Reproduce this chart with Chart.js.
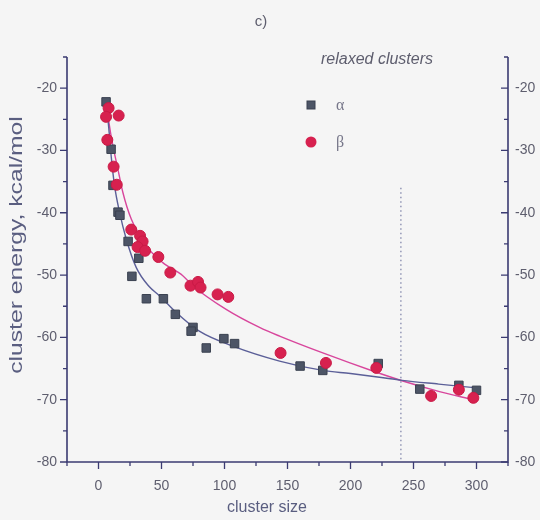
<!DOCTYPE html>
<html>
<head>
<meta charset="utf-8">
<script src="https://cdn.jsdelivr.net/npm/chart.js@4.4.0/dist/chart.umd.min.js"></script>
<style>
  body { margin: 0; background: #f5f5f5; }
  #wrap { width: 540px; height: 520px; }
</style>
</head>
<body>
<div id="wrap"><canvas id="myChart" width="540" height="520"></canvas></div>
<script>
// alpha clusters (squares)
const alphaX = [6, 10, 11.5, 15.5, 17, 23.5, 32, 26.5, 38, 51.5, 61, 75, 73.5, 85.5, 99.5, 108, 160, 178, 222, 255, 286, 300];
const alphaY = [-22.2, -29.8, -35.6, -39.9, -40.4, -44.6, -47.3, -50.2, -53.8, -53.8, -56.3, -58.4, -59.0, -61.7, -60.2, -61.0, -64.6, -65.3, -64.2, -68.3, -67.7, -68.5];

// beta clusters (circles)
const betaX = [8, 6, 16, 7, 12, 14.5, 26, 33, 35, 31, 37, 47.5, 57, 73, 79, 81, 94.5, 103, 144.5, 180.5, 220.5, 264, 286, 297.5];
const betaY = [-23.2, -24.6, -24.4, -28.3, -32.6, -35.5, -42.7, -43.7, -44.6, -45.5, -46.1, -47.1, -49.6, -51.7, -51.1, -52.0, -53.1, -53.5, -62.5, -64.1, -64.9, -69.4, -68.4, -69.7];

// fitted curves
const alphaFitX = [6.5, 8.2, 10.1, 12.7, 16.7, 22, 30, 40, 48.4, 61.7, 80, 106.6, 143.7, 178, 200, 223, 241, 270, 300];
const alphaFitY = [-23, -26.5, -31.0, -35.6, -39.9, -44.2, -48.8, -51.8, -53.3, -56.0, -59.0, -61.4, -63.8, -65.3, -65.8, -66.4, -66.9, -67.5, -68.1];
const betaFitX = [7, 8.2, 11.3, 15.3, 19.3, 26, 37.9, 51, 66.9, 74.8, 101.3, 127.8, 143.7, 178, 217.7, 241.5, 270.6, 297];
const betaFitY = [-23.5, -25.4, -29.1, -32.9, -36.7, -41.0, -45.3, -48.0, -50.1, -51.7, -55.5, -58.4, -59.8, -62.5, -65.4, -67.0, -68.7, -70.0];

// dotted marker line
const markerX = [240, 240];
const markerY = [-36, -80];

const xTicksLabeled = [0, 50, 100, 150, 200, 250, 300];
const yTicksLabeled = [-20, -30, -40, -50, -60, -70, -80];

const axisColor = '#3b3b72';
const textColor = '#5e5e6e';
const fam = 'Arial, "Liberation Sans", sans-serif';

function pts(xs, ys) {
    return xs.map((x, i) => ({ x: x, y: ys[i] }));
}

const frame = {
    id: 'frame',
    afterDraw(chart) {
        const ctx = chart.ctx;
        const a = chart.chartArea;
        const x = chart.scales.x, y = chart.scales.y;
        ctx.save();
        ctx.strokeStyle = axisColor;
        ctx.lineWidth = 1.6;
        ctx.beginPath();
        ctx.moveTo(a.left, a.top); ctx.lineTo(a.left, a.bottom); ctx.lineTo(a.right, a.bottom); ctx.lineTo(a.right, a.top);
        ctx.stroke();
        ctx.lineWidth = 1.3;
        ctx.beginPath();
        for (let v = -25; v <= 325; v += 25) {
            const px = x.getPixelForValue(v);
            const len = v % 50 === 0 ? 7 : 4;
            ctx.moveTo(px, a.bottom); ctx.lineTo(px, a.bottom + len);
        }
        for (let v = -80; v <= -15; v += 5) {
            const py = y.getPixelForValue(v);
            const len = v % 10 === 0 ? 7 : 4;
            ctx.moveTo(a.left - len, py); ctx.lineTo(a.left, py);
            ctx.moveTo(a.right - len, py); ctx.lineTo(a.right, py);
        }
        ctx.stroke();

        // titles
        ctx.fillStyle = textColor;
        ctx.textAlign = 'center';
        ctx.textBaseline = 'middle';
        ctx.font = '15px ' + fam;
        ctx.fillText('c)', 261, 22);
        ctx.font = 'italic 16px ' + fam;
        ctx.fillText('relaxed clusters', 377, 60);
        ctx.font = '16px ' + fam;
        ctx.fillStyle = '#5a5e80';
        ctx.fillText('cluster size', 267, 508);
        ctx.save();
        ctx.translate(17, 245);
        ctx.rotate(-Math.PI / 2);
        ctx.scale(1.3, 1);
        ctx.font = '19px ' + fam;
        ctx.fillText('cluster energy, kcal/mol', 0, 0);
        ctx.restore();

        // legend
        const ds = chart.data.datasets;
        ctx.fillStyle = ds[0].backgroundColor;
        ctx.strokeStyle = ds[0].borderColor;
        ctx.lineWidth = 1;
        ctx.fillRect(307, 101, 8, 8);
        ctx.strokeRect(307, 101, 8, 8);
        ctx.fillStyle = ds[1].backgroundColor;
        ctx.beginPath();
        ctx.arc(311, 142, 5.5, 0, Math.PI * 2);
        ctx.fill();
        ctx.fillStyle = '#77778a';
        ctx.textAlign = 'left';
        ctx.font = '16px "Times New Roman", "Liberation Serif", serif';
        ctx.fillText('α', 336, 106);
        ctx.fillText('β', 336, 143);
        ctx.restore();
    }
};

const ctx = document.getElementById('myChart');
const myChart = new Chart(ctx, {
    type: 'scatter',
    data: {
        datasets: [{
            label: 'α',
            data: pts(alphaX, alphaY),
            pointStyle: 'rect',
            pointRadius: 6,
            backgroundColor: '#4d5566',
            borderColor: '#3a4150',
            borderWidth: 1,
            order: 1
        }, {
            label: 'β',
            data: pts(betaX, betaY),
            pointStyle: 'circle',
            pointRadius: 5.5,
            backgroundColor: '#d7214f',
            borderColor: '#c91a46',
            borderWidth: 1,
            order: 0
        }, {
            label: 'α fit',
            data: pts(alphaFitX, alphaFitY),
            showLine: true,
            pointRadius: 0,
            borderColor: '#5b5f98',
            borderWidth: 1.4,
            cubicInterpolationMode: 'monotone',
            order: 3
        }, {
            label: 'β fit',
            data: pts(betaFitX, betaFitY),
            showLine: true,
            pointRadius: 0,
            borderColor: '#d8469c',
            borderWidth: 1.4,
            cubicInterpolationMode: 'monotone',
            order: 3
        }, {
            label: 'marker',
            data: pts(markerX, markerY),
            showLine: true,
            pointRadius: 0,
            borderColor: '#7a7fa6',
            borderWidth: 1.2,
            borderDash: [1.5, 3],
            order: 4
        }]
    },
    options: {
        responsive: false,
        animation: false,
        events: [],
        layout: { padding: { top: 57, left: 0, right: 0, bottom: 0 } },
        plugins: {
            legend: { display: false },
            tooltip: { enabled: false }
        },
        scales: {
            x: {
                type: 'linear',
                min: -25,
                max: 325,
                grid: { display: false, drawTicks: false },
                border: { display: false },
                afterFit: (s) => { s.height = 58; },
                ticks: {
                    stepSize: 25,
                    autoSkip: false,
                    maxRotation: 0,
                    padding: 16,
                    color: textColor,
                    font: { family: fam, size: 14 },
                    callback: (v) => xTicksLabeled.includes(v) ? v : ''
                }
            },
            y: {
                position: 'left',
                min: -80,
                max: -15,
                grid: { display: false, drawTicks: false },
                border: { display: false },
                afterFit: (s) => { s.width = 67; },
                ticks: {
                    stepSize: 5,
                    autoSkip: false,
                    padding: 10,
                    color: textColor,
                    font: { family: fam, size: 14 },
                    callback: (v) => yTicksLabeled.includes(v) ? v : ''
                }
            },
            y2: {
                position: 'right',
                min: -80,
                max: -15,
                grid: { display: false, drawTicks: false },
                border: { display: false },
                afterFit: (s) => { s.width = 32; },
                ticks: {
                    stepSize: 5,
                    autoSkip: false,
                    padding: 7,
                    color: textColor,
                    font: { family: fam, size: 14 },
                    callback: (v) => yTicksLabeled.includes(v) ? v : ''
                }
            }
        }
    },
    plugins: [frame]
});
</script>
</body>
</html>
